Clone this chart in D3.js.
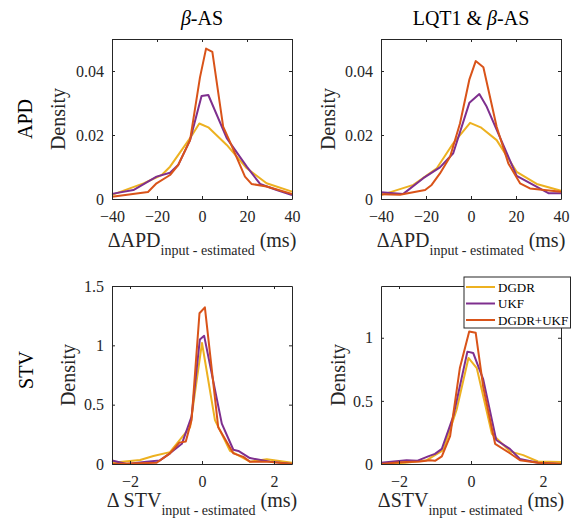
<!DOCTYPE html>
<html>
<head>
<meta charset="utf-8">
<script src="https://cdn.jsdelivr.net/npm/d3@7"></script>
<style>
  body { margin: 0; background: #fff; }
  svg, svg text { font-family: "Liberation Serif", "Times New Roman", "DejaVu Serif", serif; }
</style>
</head>
<body>
<svg id="chart" width="575" height="520"></svg>
<script>
// series names and colours (MATLAB defaults)
const seriesNames = ["DGDR", "UKF", "DGDR+UKF"];
const seriesColors = ["#EDB120", "#7E2F8E", "#D95319"];

// APD, beta-AS : [delta ms, density]
const apdBetaDGDR = [[-40,0.0013],[-26,0.0049],[-17.9,0.0075],[-14.2,0.0101],[-5.3,0.019],[-1.2,0.0236],[2.8,0.0224],[11,0.0169],[19.9,0.0096],[28.7,0.0049],[40,0.0023]];
const apdBetaUKF = [[-40,0.0016],[-30.5,0.0028],[-20.2,0.007],[-14.2,0.0082],[-10.6,0.0106],[-5.3,0.0184],[-0.2,0.0322],[2.8,0.0325],[11,0.019],[19.9,0.0101],[25.8,0.0047],[33.2,0.0028],[40,0.0012]];
const apdBetaBoth = [[-40,0.0007],[-24,0.0022],[-20.2,0.0049],[-14.2,0.0075],[-10.6,0.0106],[-5.3,0.0184],[-0.9,0.038],[1.8,0.047],[4.6,0.046],[9.4,0.0226],[12.1,0.0184],[19.1,0.007],[22,0.0047],[28.7,0.0039],[40,0.0016]];

// APD, LQT1 & beta-AS
const apdLqtDGDR = [[-40,0.0012],[-25.6,0.0044],[-15.2,0.0096],[-7.9,0.0174],[-0.4,0.0238],[4.3,0.0224],[11.4,0.0184],[20.3,0.0085],[29.2,0.0047],[40,0.0026]];
const apdLqtUKF = [[-40,0.0021],[-30.1,0.0016],[-21.2,0.0065],[-13.8,0.0099],[-7.9,0.0143],[-0.7,0.0301],[3.7,0.0328],[7,0.0288],[20.3,0.0072],[34.4,0.0018],[40,0.0018]];
const apdLqtBoth = [[-40,0.0015],[-31.6,0.0013],[-20.4,0.0028],[-17.5,0.0044],[-13.8,0.008],[-9.3,0.0132],[-4.9,0.0236],[-0.7,0.0374],[2.1,0.0431],[5.5,0.0412],[11.4,0.0226],[16.6,0.0111],[21.8,0.0049],[26.2,0.0033],[40,0.0023]];

// STV, beta-AS
const stvBetaDGDR = [[-2.5,0.01],[-1.72,0.034],[-1.35,0.067],[-0.89,0.1],[-0.33,0.31],[0,1.02],[0.36,0.37],[0.78,0.11],[1.33,0.02],[1.8,0.04],[2.5,0.01]];
const stvBetaUKF = [[-2.5,0.03],[-2.09,0],[-1.54,0.02],[-1.17,0.03],[-0.89,0.09],[-0.56,0.17],[-0.29,0.4],[-0.06,1.05],[0.06,1.08],[0.55,0.34],[0.87,0.12],[1.01,0.11],[1.33,0.05],[1.89,0.02],[2.5,0]];
const stvBetaBoth = [[-2.5,0],[-1.26,0.011],[-0.89,0.09],[-0.63,0.18],[-0.45,0.19],[-0.29,0.37],[-0.07,1.27],[0.08,1.32],[0.45,0.31],[0.87,0.09],[1.15,0.06],[1.33,0.02],[1.8,0.02],[2.5,0]];

// STV, LQT1 & beta-AS
const stvLqtDGDR = [[-2.5,0],[-1.82,0.01],[-1.23,0.03],[-0.77,0.11],[-0.4,0.43],[-0.07,0.84],[0.16,0.76],[0.58,0.24],[1.08,0.1],[1.45,0.07],[1.86,0.02],[2.5,0.015]];
const stvLqtUKF = [[-2.5,0.01],[-1.79,0.03],[-1.5,0.025],[-1.19,0.06],[-1,0.08],[-0.81,0.12],[-0.49,0.38],[-0.1,0.89],[0.06,0.88],[0.34,0.67],[0.7,0.19],[1.08,0.12],[1.36,0.04],[1.86,0.01],[2.5,0]];
const stvLqtBoth = [[-2.5,0],[-1.97,0.013],[-1.42,0.02],[-1.14,0.03],[-1,0.025],[-0.81,0.06],[-0.58,0.22],[-0.31,0.76],[-0.05,1.05],[0.13,1.04],[0.34,0.61],[0.67,0.16],[1.08,0.085],[1.36,0.03],[1.86,0.01],[2.5,0]];

// tick values
const apdXTicks = [-40, -20, 0, 20, 40];
const apdYTicks = [0, 0.02, 0.04];
const stvXTicks = [-2, 0, 2];
const stvBetaYTicks = [0, 0.5, 1, 1.5];
const stvLqtYTicks = [0, 0.5, 1];

const FONT = "Liberation Serif, Times New Roman, DejaVu Serif, serif";
const svg = d3.select("#chart").attr("font-family", FONT);
const axisColor = "#262626";

const panels = [
  {left: 112, right: 292, top: 39, bottom: 199, xd: [-40, 40], yd: [0, 0.05],
   xt: apdXTicks, yt: apdYTicks, data: [apdBetaDGDR, apdBetaUKF, apdBetaBoth],
   densX: 58, xlabY: 247, xlab: ["ΔAPD", "input - estimated", " (ms)"]},
  {left: 381, right: 561, top: 39, bottom: 199, xd: [-40, 40], yd: [0, 0.05],
   xt: apdXTicks, yt: apdYTicks, data: [apdLqtDGDR, apdLqtUKF, apdLqtBoth],
   densX: 328, xlabY: 247, xlab: ["ΔAPD", "input - estimated", " (ms)"]},
  {left: 112, right: 292, top: 286, bottom: 464, xd: [-2.5, 2.5], yd: [0, 1.5],
   xt: stvXTicks, yt: stvBetaYTicks, data: [stvBetaDGDR, stvBetaUKF, stvBetaBoth],
   densX: 68, xlabY: 507, xlab: ["Δ STV", "input - estimated", " (ms)"]},
  {left: 381, right: 561, top: 286, bottom: 464, xd: [-2.5, 2.5], yd: [0, 1.41],
   xt: stvXTicks, yt: stvLqtYTicks, data: [stvLqtDGDR, stvLqtUKF, stvLqtBoth],
   densX: 338, xlabY: 507, xlab: ["ΔSTV", "input - estimated", " (ms)"]}
];

panels.forEach(p => {
  const x = d3.scaleLinear().domain(p.xd).range([p.left, p.right]);
  const y = d3.scaleLinear().domain(p.yd).range([p.bottom, p.top]);
  const g = svg.append("g");

  const line = d3.line().x(d => x(d[0])).y(d => y(d[1]));
  p.data.forEach((s, i) => {
    g.append("path")
      .attr("d", line(s))
      .attr("fill", "none")
      .attr("stroke", seriesColors[i])
      .attr("stroke-width", 2)
      .attr("stroke-linejoin", "round");
  });

  // box with inward ticks
  const tl = 3;
  const xb = d3.axisBottom(x).tickValues(p.xt).tickSizeInner(-tl).tickSizeOuter(0).tickPadding(12).tickFormat(d3.format("~g"));
  const xtop = d3.axisTop(x).tickValues(p.xt).tickSizeInner(-tl).tickSizeOuter(0).tickFormat("");
  const yl = d3.axisLeft(y).tickValues(p.yt).tickSizeInner(-tl).tickSizeOuter(0).tickPadding(8).tickFormat(d3.format("~g"));
  const yr = d3.axisRight(y).tickValues(p.yt).tickSizeInner(-tl).tickSizeOuter(0).tickFormat("");

  [[xb, `translate(0,${p.bottom})`], [xtop, `translate(0,${p.top})`],
   [yl, `translate(${p.left},0)`], [yr, `translate(${p.right},0)`]].forEach(([ax, tr]) => {
    const a = g.append("g").attr("transform", tr).call(ax).attr("font-family", FONT);
    a.select(".domain").attr("stroke", axisColor).attr("stroke-width", 1);
    a.selectAll(".tick line").attr("stroke", axisColor);
    a.selectAll(".tick text")
      .attr("font-family", FONT)
      .attr("font-size", 16)
      .attr("fill", axisColor);
  });

  // Density label
  svg.append("text")
    .attr("transform", `translate(${p.densX},${(p.top + p.bottom) / 2}) rotate(-90)`)
    .attr("text-anchor", "middle")
    .attr("dy", "0.35em")
    .attr("font-size", 20)
    .attr("fill", axisColor)
    .text("Density");

  // x label with subscript
  const xl = svg.append("text")
    .attr("x", (p.left + p.right) / 2)
    .attr("y", p.xlabY)
    .attr("text-anchor", "middle")
    .attr("font-size", 20)
    .attr("fill", axisColor);
  xl.append("tspan").text(p.xlab[0]);
  xl.append("tspan").attr("font-size", 14).attr("dy", 8).text(p.xlab[1]);
  xl.append("tspan").attr("dy", -8).text(p.xlab[2]);
});

// column titles
const titles = [{x: 202, pre: ""}, {x: 471, pre: "LQT1 & "}];
titles.forEach(t => {
  const tt = svg.append("text")
    .attr("x", t.x).attr("y", 25)
    .attr("text-anchor", "middle")
    .attr("font-size", 20)
    .attr("fill", "#000");
  if (t.pre) tt.append("tspan").text(t.pre);
  tt.append("tspan").attr("font-style", "italic").text("β");
  tt.append("tspan").text("-AS");
});

// row labels
[["APD", 25, 119], ["STV", 26, 370]].forEach(([lab, cx, cy]) => {
  svg.append("text")
    .attr("transform", `translate(${cx},${cy}) rotate(-90)`)
    .attr("text-anchor", "middle")
    .attr("dy", "0.35em")
    .attr("font-size", 20)
    .attr("fill", "#000")
    .text(lab);
});

// legend
const leg = svg.append("g");
leg.append("rect")
  .attr("x", 464).attr("y", 277).attr("width", 106.5).attr("height", 51)
  .attr("fill", "#fff").attr("stroke", axisColor).attr("stroke-width", 1);
seriesNames.forEach((n, i) => {
  const yy = 287 + i * 16.5;
  leg.append("line")
    .attr("x1", 466).attr("x2", 495).attr("y1", yy).attr("y2", yy)
    .attr("stroke", seriesColors[i]).attr("stroke-width", 2);
  leg.append("text")
    .attr("x", 498).attr("y", yy).attr("dy", "0.35em")
    .attr("font-size", 13).attr("fill", "#000")
    .text(n);
});
</script>
</body>
</html>
